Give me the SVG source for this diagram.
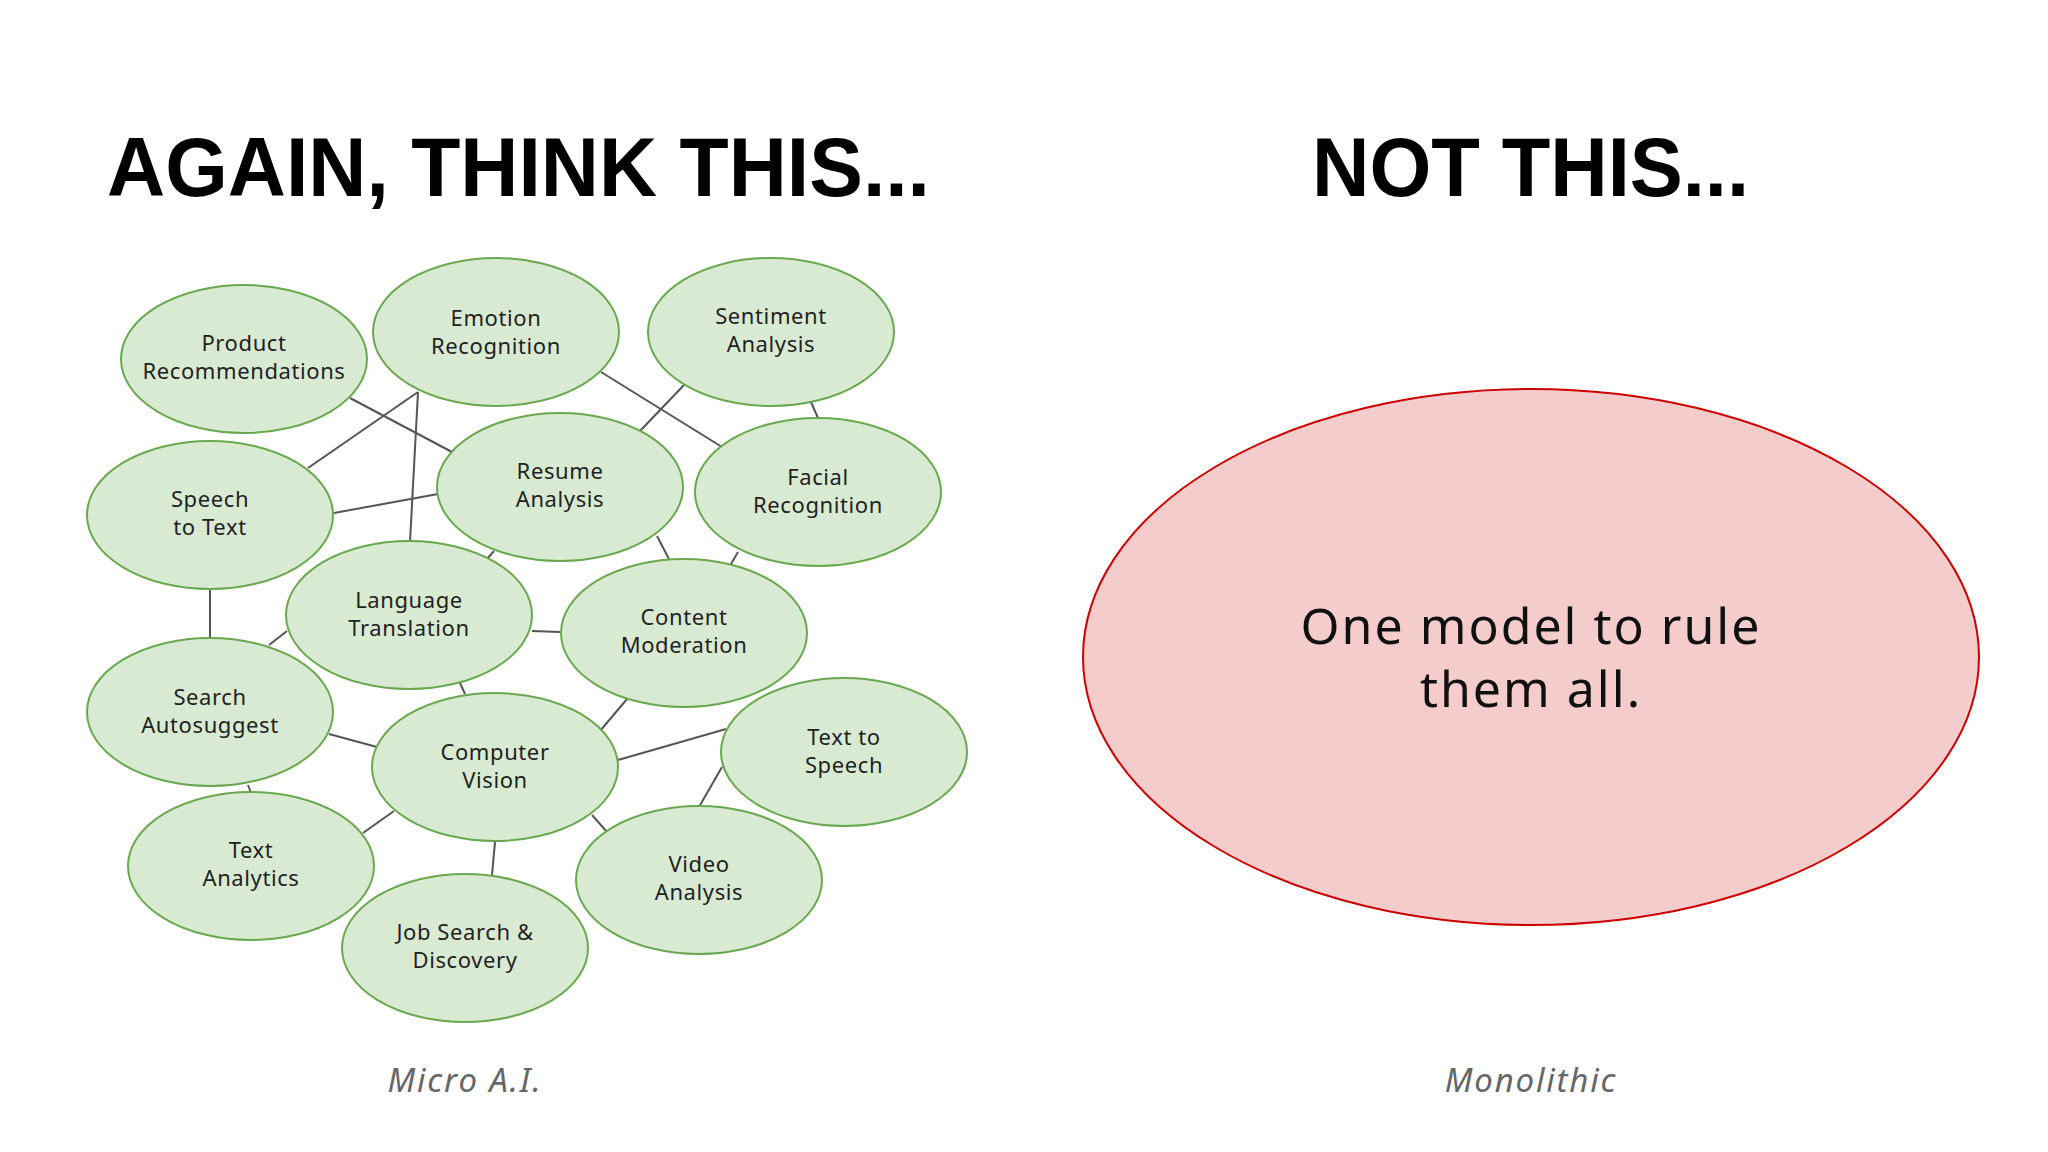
<svg xmlns="http://www.w3.org/2000/svg" width="2048" height="1152" viewBox="0 0 2048 1152">
<style>
.n{fill:#d9ead3;stroke:#6aa84f;stroke-width:2}
.t{font-family:"Noto Sans","Open Sans",sans-serif;font-size:22px;letter-spacing:0.6px;fill:#222;text-anchor:middle}
.h{font-family:"Liberation Sans",Arial,sans-serif;font-weight:bold;font-size:84px;fill:#000}
.c{font-family:"Noto Sans",sans-serif;font-style:italic;font-size:33px;letter-spacing:1.8px;fill:#666;text-anchor:middle}
.b{font-family:"Noto Sans",sans-serif;font-size:50px;letter-spacing:2px;fill:#111;text-anchor:middle}
#edges line{stroke:#555;stroke-width:2}
</style>
<rect width="2048" height="1152" fill="#fff"/>
<text class="h" x="107" y="196" textLength="823" lengthAdjust="spacingAndGlyphs">AGAIN, THINK THIS...</text>
<text class="h" x="1312" y="196" textLength="437" lengthAdjust="spacingAndGlyphs">NOT THIS...</text>
<g id="edges">
<line x1="350" y1="398" x2="452" y2="452"/>
<line x1="418" y1="392" x2="308" y2="468"/>
<line x1="418" y1="392" x2="410" y2="542"/>
<line x1="601" y1="372" x2="722" y2="447"/>
<line x1="684" y1="385" x2="640" y2="431"/>
<line x1="811" y1="402" x2="818" y2="418"/>
<line x1="334" y1="513" x2="438" y2="494"/>
<line x1="657" y1="536" x2="669" y2="559"/>
<line x1="494" y1="551" x2="487" y2="559"/>
<line x1="738" y1="552" x2="731" y2="564"/>
<line x1="210" y1="589" x2="210" y2="639"/>
<line x1="269" y1="645" x2="287" y2="631"/>
<line x1="532" y1="631" x2="560" y2="632"/>
<line x1="460" y1="683" x2="465" y2="694"/>
<line x1="627" y1="699" x2="600" y2="731"/>
<line x1="329" y1="734" x2="377" y2="747"/>
<line x1="618" y1="760" x2="726" y2="729"/>
<line x1="722" y1="767" x2="699" y2="807"/>
<line x1="248" y1="785" x2="251" y2="793"/>
<line x1="363" y1="833" x2="394" y2="811"/>
<line x1="495" y1="842" x2="492" y2="875"/>
<line x1="592" y1="815" x2="607" y2="832"/>
</g>
<g id="product"><ellipse class="n" cx="244" cy="359" rx="123" ry="74"/><text class="t" x="244" y="351">Product</text><text class="t" x="244" y="379">Recommendations</text></g>
<g id="emotion"><ellipse class="n" cx="496" cy="332" rx="123" ry="74"/><text class="t" x="496" y="326">Emotion</text><text class="t" x="496" y="354">Recognition</text></g>
<g id="sentiment"><ellipse class="n" cx="771" cy="332" rx="123" ry="74"/><text class="t" x="771" y="324">Sentiment</text><text class="t" x="771" y="352">Analysis</text></g>
<g id="speech"><ellipse class="n" cx="210" cy="515" rx="123" ry="74"/><text class="t" x="210" y="507">Speech</text><text class="t" x="210" y="535">to Text</text></g>
<g id="resume"><ellipse class="n" cx="560" cy="487" rx="123" ry="74"/><text class="t" x="560" y="479">Resume</text><text class="t" x="560" y="507">Analysis</text></g>
<g id="facial"><ellipse class="n" cx="818" cy="492" rx="123" ry="74"/><text class="t" x="818" y="485">Facial</text><text class="t" x="818" y="513">Recognition</text></g>
<g id="language"><ellipse class="n" cx="409" cy="615" rx="123" ry="74"/><text class="t" x="409" y="608">Language</text><text class="t" x="409" y="636">Translation</text></g>
<g id="content"><ellipse class="n" cx="684" cy="633" rx="123" ry="74"/><text class="t" x="684" y="625">Content</text><text class="t" x="684" y="653">Moderation</text></g>
<g id="search"><ellipse class="n" cx="210" cy="712" rx="123" ry="74"/><text class="t" x="210" y="705">Search</text><text class="t" x="210" y="733">Autosuggest</text></g>
<g id="vision"><ellipse class="n" cx="495" cy="767" rx="123" ry="74"/><text class="t" x="495" y="760">Computer</text><text class="t" x="495" y="788">Vision</text></g>
<g id="tts"><ellipse class="n" cx="844" cy="752" rx="123" ry="74"/><text class="t" x="844" y="745">Text to</text><text class="t" x="844" y="773">Speech</text></g>
<g id="textanalytics"><ellipse class="n" cx="251" cy="866" rx="123" ry="74"/><text class="t" x="251" y="858">Text</text><text class="t" x="251" y="886">Analytics</text></g>
<g id="video"><ellipse class="n" cx="699" cy="880" rx="123" ry="74"/><text class="t" x="699" y="872">Video</text><text class="t" x="699" y="900">Analysis</text></g>
<g id="job"><ellipse class="n" cx="465" cy="948" rx="123" ry="74"/><text class="t" x="465" y="940">Job Search &amp;</text><text class="t" x="465" y="968">Discovery</text></g>
<g id="monolith"><ellipse cx="1531" cy="657" rx="448" ry="268" fill="#f4cccc" stroke="#cc0000" stroke-width="2"/>
<text class="b" x="1531" y="644">One model to rule</text>
<text class="b" x="1531" y="707">them all.</text></g>
<text class="c" x="465" y="1092">Micro A.I.</text>
<text class="c" x="1531" y="1092">Monolithic</text>
</svg>
